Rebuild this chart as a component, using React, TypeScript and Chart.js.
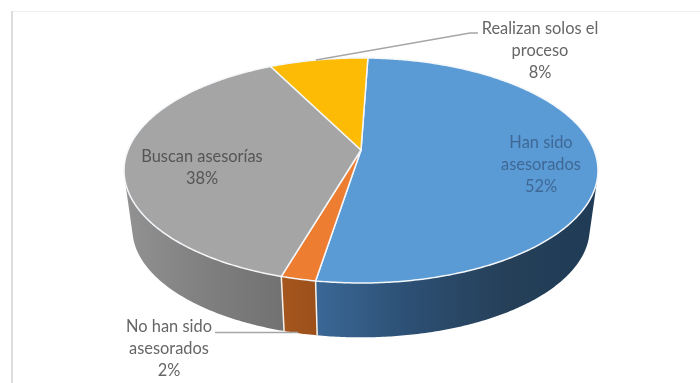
import { useEffect, useRef } from "react";
import { Chart, registerables } from "chart.js";

Chart.register(...registerables);

// Survey shares, clockwise from twelve o'clock.
const categories = ["Han sido asesorados", "No han sido asesorados", "Buscan asesorías", "Realizan solos el proceso"];
const shares = [52, 2, 38, 8];
const labelLines = [["Han sido", "asesorados"], ["No han sido", "asesorados"], ["Buscan asesorías"], ["Realizan solos el", "proceso"]];
const faceColors = ["#5b9bd5", "#ed7d31", "#a5a5a5", "#fdbb05"];
const wallShades = [
  ["#3a6796", "#2c4f73", "#264059", "#1f3b55"],
  ["#a8581f", "#9c4f1a"],
  ["#929292", "#808080", "#727272"],
  ["#b88a00", "#b88a00"],
];
const labelInk = ["#3f6896", "#666666", "#555555", "#666666"];

// Perspective disc: vanishing factor, semi-axes and apex of the top face.
const APEX = { x: 361, y: 150 };
const AXIS_X = 233;
const AXIS_Y = 108.8;
const TILT = -0.182;
const DEPTH = 59;
const FLOOR_SCALE = 0.965;
const START_ROTATION = 2;
const WALL_SPAN: [number, number][] = [[317, 598], [270, 320], [125, 280], [270, 360]];
const LABEL_SPOTS = [
  { x: 541, y: 143 },
  { x: 169, y: 327 },
  { x: 202, y: 157 },
  { x: 540, y: 29 },
];
const LEADERS = [
  { dataIndex: 3, path: [[316, 60], [470, 33], [478, 33]] },
  { dataIndex: 1, path: [[215, 332.5], [298, 332.5]] },
];
const LINE_STEP = 22;

const project = (angle: number, floor: boolean) => {
  const u = Math.cos(angle);
  const v = Math.sin(angle);
  const w = 1 + TILT * v;
  const s = floor ? FLOOR_SCALE : 1;
  return {
    x: APEX.x + (s * AXIS_X * u) / w,
    y: APEX.y + (floor ? DEPTH : 0) + (s * AXIS_Y * v) / w,
  };
};

const sampleAngles = (start: number, end: number) => {
  const steps = Math.max(2, Math.ceil((end - start) / 0.01));
  const out: number[] = [];
  for (let i = 0; i <= steps; i++) out.push(start + ((end - start) * i) / steps);
  return out;
};

// A rim point shows its wall only while the extrusion runs outward from the disc.
const facesViewer = (angle: number) => {
  const here = project(angle, false);
  const next = project(angle + 0.001, false);
  const below = project(angle, true);
  const cross = (next.x - here.x) * (below.y - here.y) - (next.y - here.y) * (below.x - here.x);
  return cross < 0;
};

// Replaces the flat arcs with an extruded disc built from the angles the controller computed.
const discPlugin = {
  id: "perspectiveDisc",
  beforeDatasetsDraw(chart: Chart) {
    const { ctx, width, height } = chart;
    const arcs = chart.getDatasetMeta(0).data as any[];

    ctx.save();
    ctx.fillStyle = "#ffffff";
    ctx.fillRect(0, 0, width, height);
    ctx.strokeStyle = "#eeeeee";
    ctx.lineWidth = 1;
    ctx.beginPath();
    ctx.moveTo(11, 11.5);
    ctx.lineTo(width, 11.5);
    ctx.stroke();
    ctx.strokeStyle = "#dedede";
    ctx.lineWidth = 2;
    ctx.beginPath();
    ctx.moveTo(12, 11);
    ctx.lineTo(12, height);
    ctx.stroke();

    // Outer walls: only the part of each slice's rim that faces the viewer.
    arcs.forEach((arc, i) => {
      const angles = sampleAngles(arc.startAngle, arc.endAngle).filter(facesViewer);
      if (angles.length < 2) return;
      const [x0, x1] = WALL_SPAN[i];
      const shade = ctx.createLinearGradient(x0, 0, x1, 0);
      wallShades[i].forEach((c, k, all) => shade.addColorStop(k / (all.length - 1), c));
      ctx.fillStyle = shade;
      ctx.beginPath();
      angles.forEach((a, k) => {
        const p = project(a, false);
        if (k === 0) ctx.moveTo(p.x, p.y);
        else ctx.lineTo(p.x, p.y);
      });
      [...angles].reverse().forEach((a) => {
        const p = project(a, true);
        ctx.lineTo(p.x, p.y);
      });
      ctx.closePath();
      ctx.fill();
    });

    // Seams between the wall segments.
    ctx.strokeStyle = "#f7f3ea";
    ctx.lineWidth = 1.5;
    for (const arc of arcs) {
      if (!facesViewer(arc.endAngle)) continue;
      const a = project(arc.endAngle, false);
      const b = project(arc.endAngle, true);
      ctx.beginPath();
      ctx.moveTo(a.x, a.y);
      ctx.lineTo(b.x, b.y);
      ctx.stroke();
    }

    // Top faces.
    ctx.lineJoin = "round";
    arcs.forEach((arc) => {
      ctx.beginPath();
      ctx.moveTo(APEX.x, APEX.y);
      sampleAngles(arc.startAngle, arc.endAngle).forEach((a) => {
        const p = project(a, false);
        ctx.lineTo(p.x, p.y);
      });
      ctx.closePath();
      ctx.fillStyle = arc.options.backgroundColor;
      ctx.fill();
      ctx.strokeStyle = arc.options.borderColor;
      ctx.lineWidth = arc.options.borderWidth;
      ctx.stroke();
    });
    ctx.restore();
    return false;
  },
  afterDraw(chart: Chart) {
    const { ctx } = chart;
    ctx.save();
    ctx.strokeStyle = "#a6a6a6";
    ctx.lineWidth = 1.4;
    for (const leader of LEADERS) {
      ctx.beginPath();
      leader.path.forEach(([x, y], k) => (k === 0 ? ctx.moveTo(x, y) : ctx.lineTo(x, y)));
      ctx.stroke();
    }
    ctx.font = '16.4px Lato, "Open Sans", sans-serif';
    ctx.textAlign = "center";
    ctx.textBaseline = "middle";
    categories.forEach((_, i) => {
      const lines = [...labelLines[i], `${shares[i]}%`];
      ctx.fillStyle = labelInk[i];
      lines.forEach((text, k) => {
        ctx.fillText(text, LABEL_SPOTS[i].x, LABEL_SPOTS[i].y + k * LINE_STEP);
      });
    });
    ctx.restore();
  },
};

export default function App() {
  const ref = useRef<HTMLCanvasElement>(null);
  useEffect(() => {
    const chart = new Chart(ref.current!, {
      type: "pie",
      data: {
        labels: categories,
        datasets: [
          {
            data: shares,
            backgroundColor: faceColors,
            borderColor: "#f4f7fa",
            borderWidth: 1.5,
          },
        ],
      },
      options: {
        animation: false,
        responsive: false,
        rotation: START_ROTATION,
        plugins: { legend: { display: false }, tooltip: { enabled: false } },
      },
      plugins: [discPlugin],
    });
    return () => chart.destroy();
  }, []);
  return (
    <div style={{ position: "absolute", left: 0, top: 0, width: 700, height: 383 }}>
      <canvas ref={ref} width={700} height={383} style={{ display: "block" }} />
    </div>
  );
}
